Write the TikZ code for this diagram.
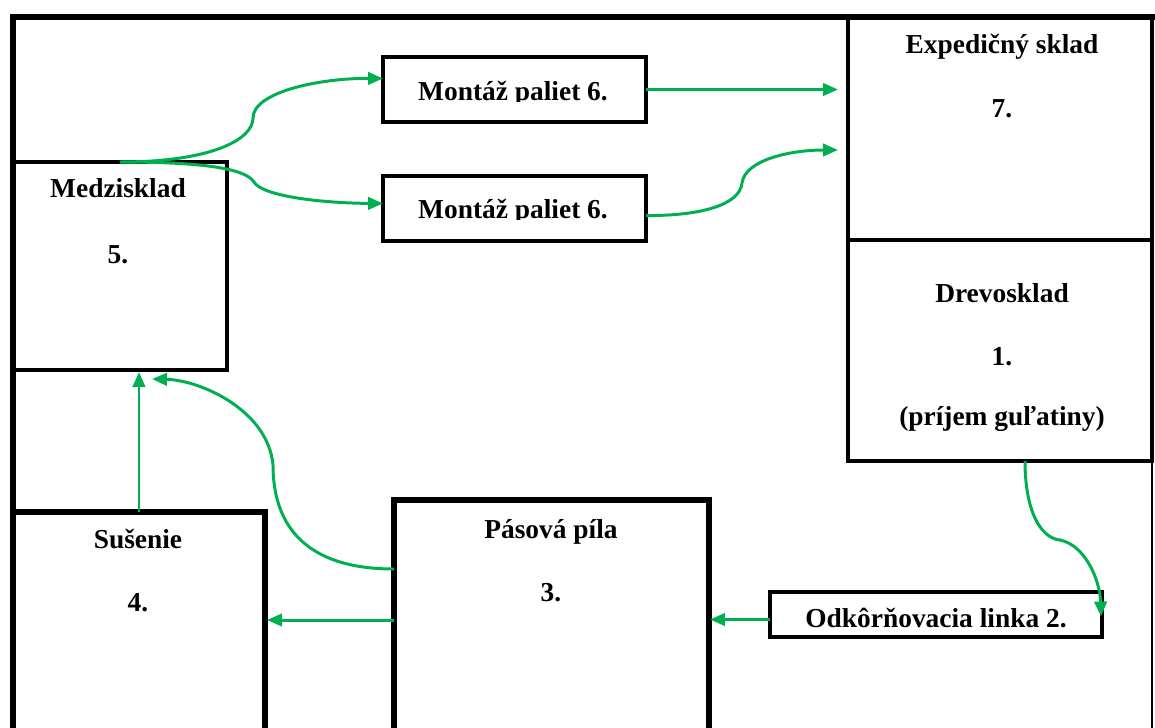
\documentclass[tikz,border=0pt]{standalone}
\usepackage{fontspec}
\setmainfont{Liberation Serif}
\usepackage{tikz}
\usetikzlibrary{arrows.meta, calc, fit}
\definecolor{flowgreen}{RGB}{0,176,80}

\begin{document}
\begin{tikzpicture}[x=0.02cm,y=-0.02cm,
    box/.style={rectangle,draw=black,inner sep=0pt,outer sep=0pt},
    lbl/.style={font=\bfseries\fontsize{15.6}{18}\selectfont,anchor=base,inner sep=0pt},
    flow/.style={-{Triangle[length=8.5pt,width=7pt]},line width=1.7pt,flowgreen}]
    \useasboundingbox (0,0) rectangle (1155,727);
    \clip (0,0) rectangle (1155,727);

    % Obvod haly
    \draw[line width=3.4pt] (13,780) -- (13,17) -- (1170,17);
    \draw[line width=1.2pt] (1152,17) -- (1152,780);

    % Medzisklad
    \node[box,line width=2.3pt,fit={(13,162) (227,370)}] (medz) {};
    \node[lbl] (medzname) at (118,197) {Medzisklad};
    \node[lbl] (medznum) at (118,263) {5.};

    % Montaz paliet (text je orezany spodnym okrajom)
    \node[box,line width=2.8pt,fit={(383,57) (646,122)}] (mont1) {};
    \node[box,line width=2.8pt,fit={(383,176) (646,241)}] (mont2) {};
    \begin{scope}
        \clip (383,57) rectangle (646,101);
        \node[lbl] (mont1name) at (513,100) {Montáž paliet 6.};
    \end{scope}
    \begin{scope}
        \clip (383,176) rectangle (646,219);
        \node[lbl] (mont2name) at (513,218) {Montáž paliet 6.};
    \end{scope}

    % Expedicny sklad
    \node[box,line width=2pt,fit={(848,17) (1152,240)}] (exp) {};
    \node[lbl] (expname) at (1002,53) {Expedičný sklad};
    \node[lbl] (expnum) at (1002,117) {7.};

    % Drevosklad
    \node[box,line width=2pt,fit={(848,240) (1152,461)}] (drev) {};
    \node[lbl] (drevname) at (1002,302) {Drevosklad};
    \node[lbl] (drevnum) at (1002,365) {1.};
    \node[lbl] (drevnote) at (1002,425) {(príjem guľatiny)};

    % Susenie
    \node[box,line width=3.4pt,fit={(13,512) (265,800)}] (sus) {};
    \node[lbl] (susname) at (138,548) {Sušenie};
    \node[lbl] (susnum) at (138,611) {4.};

    % Pasova pila
    \node[box,line width=3.4pt,fit={(394,500) (709,800)}] (pas) {};
    \node[lbl] (pasname) at (551,538) {Pásová píla};
    \node[lbl] (pasnum) at (551,601) {3.};

    % Odkornovacia linka
    \node[box,line width=2.6pt,fit={(770,592) (1102,637)}] (odk) {};
    \node[lbl] (odkname) at (936,627) {Odkôrňovacia linka 2.};

    % Tok materialu
    \draw[flow] ($(drev.south)+(25,0)$) .. controls (1025,510) and (1040,538) .. (1060,540)
        .. controls (1085,545) and (1100,580) .. ($(odk.east)+(-1,2)$);
    \draw[flow] ($(odk.west)+(0,5)$) -- ($(odk.west -| pas.east)+(1,5)$);
    \draw[flow] ($(pas.west)+(0,-30)$) -- ($(pas.west -| sus.east)+(2,-30)$);
    \draw[flow] ($(pas.west)+(0,-81)$) .. controls (300,569) and (273,520) .. (273,465)
        .. controls (268,410) and (200,380) .. ($(medz.south)+(32,9)$);
    \draw[flow] (sus.north) -- ($(sus.north |- medz.south)+(0,2)$);
    \draw[flow] (medz.north) .. controls (210,162) and (253,140) .. (253,118)
        .. controls (253,92) and (320,78) .. ($(mont1.west)+(0,-11)$);
    \draw[flow] (medz.north) .. controls (200,162) and (245,168) .. (254,182)
        .. controls (262,196) and (320,203) .. ($(mont2.west)+(0,-5)$);
    \draw[flow] (mont1.east) -- ($(mont1.east -| exp.west)+(-10,0)$);
    \draw[flow] ($(mont2.east)+(0,7)$) .. controls (700,216) and (740,205) .. (742,183)
        .. controls (745,160) and (790,150) .. ($(exp.west)+(-10,21.5)$);
\end{tikzpicture}
\end{document}
